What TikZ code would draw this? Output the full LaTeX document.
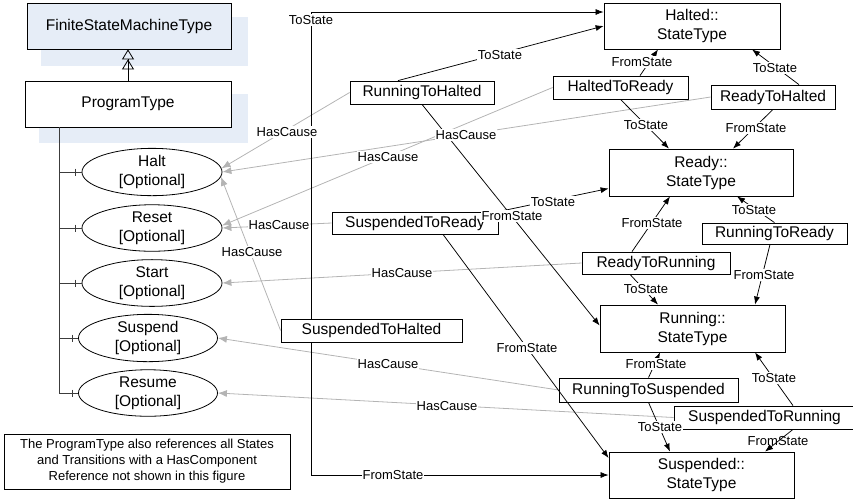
\documentclass[tikz,border=0pt]{standalone}
\usepackage{fontspec}
\setmainfont{Liberation Sans}
\usetikzlibrary{arrows.meta,shapes.geometric,calc,decorations.markings}

\definecolor{fsmblue}{HTML}{E6EDF7}
\definecolor{causegray}{HTML}{B4B4B4}
\definecolor{treegray}{HTML}{3C3C3C}

\begin{document}
\begin{tikzpicture}[x=1pt,y=-1pt,
  box/.style={draw=black, line width=0.8pt, fill=white, inner sep=0pt, align=center, font=\fontsize{15.5}{19}\selectfont},
  opt/.style={draw=black, line width=0.8pt, fill=white, ellipse, inner sep=0pt, minimum width=140pt, minimum height=45pt, align=center, font=\fontsize{15.5}{19}\selectfont},
  lab/.style={fill=white, inner sep=1pt, font=\fontsize{13}{15}\selectfont},
  labclear/.style={inner sep=1pt, font=\fontsize{13}{15}\selectfont},
  refline/.style={draw=black, line width=0.75pt, -{Latex[length=8pt,width=6pt]}},
  cause/.style={draw=causegray, line width=0.8pt, -{Latex[length=9pt,width=7pt]}},
  treeline/.style={draw=treegray, line width=1pt},
  branch/.style={treeline, postaction={decorate}, decoration={markings, mark=at position -6pt with {\draw[treegray, line width=1pt] (0,-3.5) -- (0,3.5);}}},
]
\useasboundingbox (0,0) rectangle (853,499);
\clip (0,0) rectangle (853,499);

% left side
\fill[fsmblue] (41,17) rectangle (248,66);
\node[box, fill=fsmblue, minimum width=204pt, minimum height=46pt] (fsm) at (129,26) {FiniteStateMachineType};
\fill[fsmblue] (39,94) rectangle (248,143);
\node[box, minimum width=206pt, minimum height=46pt] (prog) at (128,104) {ProgramType};
\draw[line width=0.8pt, -{Triangle[open,length=10pt,width=12pt]Triangle[open,length=10pt,width=12pt]}] (prog.north) -- (prog.north |- fsm.south);

\node[opt] (halt) at (152,172) {Halt\\{[Optional]}};
\node[opt] (reset) at (152,228) {Reset\\{[Optional]}};
\node[opt] (start) at (152,283) {Start\\{[Optional]}};
\node[opt, minimum width=139pt] (suspend) at (148,338) {Suspend\\{[Optional]}};
\node[opt, minimum width=139pt] (resume) at (148,393) {Resume\\{[Optional]}};

\coordinate (tk) at (59,0);
\draw[treeline] (prog.south -| tk) -- (tk |- resume);
\draw[branch] (tk |- halt) -- (halt.west);
\draw[branch] (tk |- reset) -- (reset.west);
\draw[branch] (tk |- start) -- (start.west);
\draw[branch] (tk |- suspend) -- (suspend.west);
\draw[branch] (tk |- resume) -- (resume.west);

\node[draw, line width=0.8pt, minimum width=286pt, minimum height=55pt, align=center, inner sep=0pt, font=\fontsize{13}{16}\selectfont] (note) at (147,461.5) {The ProgramType also references all States\\and Transitions with a HasComponent\\Reference not shown in this figure};

% states
\node[box, minimum width=176pt, minimum height=46pt] (halted) at (692,26) {Halted::\\StateType};
\node[box, minimum width=184pt, minimum height=47pt] (ready) at (701,172.5) {Ready::\\StateType};
\node[box, minimum width=185pt, minimum height=47pt] (running) at (692.5,328.5) {Running::\\StateType};
\node[box, minimum width=185pt, minimum height=46pt] (suspended) at (701.5,475) {Suspended::\\StateType};

% transitions
\node[box, minimum width=144pt, minimum height=23pt] (r2h) at (422,92.5) {RunningToHalted};
\node[box, minimum width=135pt, minimum height=23pt] (h2r) at (620.5,87.5) {HaltedToReady};
\node[box, minimum width=124pt, minimum height=24pt] (rd2h) at (773,97) {ReadyToHalted};
\node[box, minimum width=166pt, minimum height=22pt] (s2r) at (415,223) {SuspendedToReady};
\node[box, minimum width=148pt, minimum height=22pt] (r2run) at (656,263) {ReadyToRunning};
\node[box, minimum width=145pt, minimum height=21pt] (run2r) at (774.5,233.5) {RunningToReady};
\node[box, minimum width=181pt, minimum height=23pt] (s2h) at (371.5,330.5) {SuspendedToHalted};
\node[box, minimum width=179pt, minimum height=24pt] (run2s) at (648.5,390) {RunningToSuspended};
\node[box, minimum width=181pt, minimum height=23pt] (s2run) at (764.5,417.5) {SuspendedToRunning};

% HasCause
\draw[cause] (r2h.west) -- (halt.3);
\draw[cause] (rd2h.west) -- (halt.east);
\draw[cause] (s2h.west) -- (halt.-4);
\draw[cause] (h2r.west) -- (reset.2);
\draw[cause] (s2r.west) -- (reset.east);
\draw[cause] (r2run.west) -- (start.east);
\draw[cause] (run2s.west) -- (suspend.east);
\draw[cause] (s2run.west) -- (resume.east);

% ToState / FromState
\coordinate (cT) at (311,12);
\coordinate (cF) at (311,475);
\draw[refline] (s2h.north -| cT) -- (cT) -- (halted.west |- cT);
\draw[refline] (s2h.south -| cF) -- (cF) -- (suspended.west |- cF);
\draw[refline] ($(r2h.north)+(-24,0)$) -- (halted.west);
\draw[refline] (r2h.south) -- ($(running.west)+(0,-3)$);
\draw[refline] ($(h2r.north)+(19.5,0)$) -- ($(halted.south)+(-34,0)$);
\draw[refline] (h2r.south) -- ($(ready.north)+(-32,0)$);
\draw[refline] ($(rd2h.north)+(26,0)$) -- ($(halted.south)+(60,0)$);
\draw[refline] (rd2h.south) -- ($(ready.north)+(32,0)$);
\draw[refline] (s2r.north east) -- ($(ready.west)+(0,16)$);
\draw[refline] ($(s2r.south)+(28,0)$) -- ($(suspended.west)+(0,-17)$);
\draw[refline] ($(r2run.north)+(-24,0)$) -- ($(ready.south)+(-31,0)$);
\draw[refline] ($(r2run.south)+(-26,0)$) -- ($(running.north)+(-34.5,0)$);
\draw[refline] (run2r.north) -- ($(ready.south)+(36,0)$);
\draw[refline] ($(run2r.south)+(-4.5,0)$) -- ($(running.north)+(62.5,0)$);
\draw[refline] (run2s.north) -- ($(running.south)+(-32.5,0)$);
\draw[refline] (run2s.south) -- ($(suspended.north)+(-31.5,0)$);
\draw[refline] ($(s2run.north)+(28.5,0)$) -- ($(running.south)+(62.5,0)$);
\draw[refline] ($(s2run.south)+(28.5,0)$) -- ($(suspended.north)+(63.5,0)$);

% labels
\node[lab] (la) at (287,132) {HasCause};
\node[lab] (lb) at (466,135) {HasCause};
\node[lab] (lc) at (252,252) {HasCause};
\node[lab] (ld) at (388,157) {HasCause};
\node[lab] (le) at (279,225) {HasCause};
\node[lab] (lf) at (402,273) {HasCause};
\node[lab] (lg) at (388,364) {HasCause};
\node[lab] (lh) at (447,406) {HasCause};

\node[lab] (l1) at (311,20) {ToState};
\node[lab] (l2) at (393,475) {FromState};
\node[lab] (l3) at (500,55) {ToState};
\node[lab] (l4) at (512,216) {FromState};
\node[lab] (l5) at (642,62) {FromState};
\node[lab] (l6) at (646,125) {ToState};
\node[lab] (l7) at (775,68) {ToState};
\node[lab] (l8) at (756,128) {FromState};
\node[lab] (l9) at (553,202) {ToState};
\node[lab] (l10) at (527,348) {FromState};
\node[lab] (l11) at (652,223) {FromState};
\node[lab] (l12) at (646,289) {ToState};
\node[lab] (l13) at (754,210) {ToState};
\node[lab] (l14) at (764,275) {FromState};
\node[lab] (l15) at (656,364) {FromState};
\node[lab] (l16) at (660,427) {ToState};
\node[lab] (l17) at (774,378) {ToState};
\node[labclear] (l18) at (778,441) {FromState};
\end{tikzpicture}
\end{document}
